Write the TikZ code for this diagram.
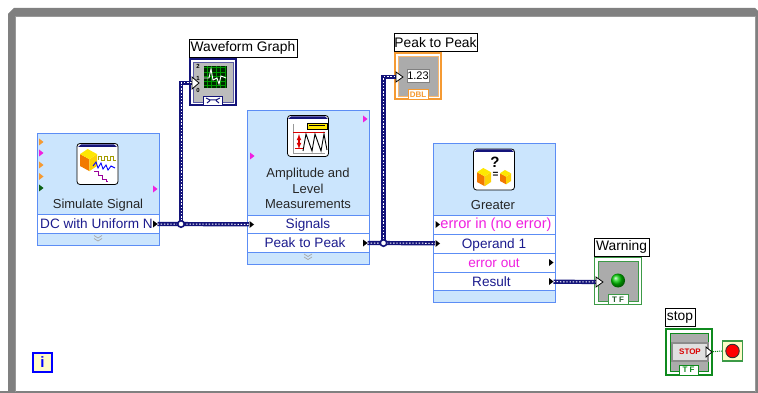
\documentclass[tikz,border=0pt]{standalone}
\usepackage{fontspec}
\setmainfont{Liberation Sans}
\definecolor{framegray}{HTML}{808080}
\definecolor{vipanel}{HTML}{CBE5FD}
\definecolor{viedge}{HTML}{5C8DF5}
\definecolor{rowtext}{HTML}{1C1C8E}
\definecolor{wirenavy}{HTML}{14147A}
\definecolor{errpink}{HTML}{F020E0}
\definecolor{termorange}{HTML}{F59A32}
\definecolor{boolgreen}{HTML}{3C9A46}
\definecolor{stopgreen}{HTML}{0F8A1E}
\definecolor{panelgray}{HTML}{ABABAB}
\definecolor{cream}{HTML}{FFFBC8}
\tikzset{
  vibody/.style={draw=viedge,fill=vipanel,line width=1pt,minimum width=122pt,inner sep=0pt},
  virow/.style={vibody,fill=white,minimum height=19pt,font=\fontsize{13.6}{13.6}\selectfont,text=rowtext,text height=11pt,text depth=2pt},
  vifoot/.style={vibody,minimum height=12pt},
  vitext/.style={font=\fontsize{13}{15.5}\selectfont,text=black!85,align=center,inner sep=0pt},
  viicon/.style={draw=black,fill=white,rounded corners=3pt,line width=.8pt,minimum width=41pt,minimum height=41pt,inner sep=0pt},
  tagbox/.style={draw=black,fill=white,line width=.8pt,font=\fontsize{13.8}{13.8}\selectfont,inner sep=0pt,minimum height=18pt},
  wire/.style={draw=wirenavy,line width=4.2pt,postaction={draw=white,line width=1pt,dash pattern=on 1.4pt off 1.8pt}},
  junct/.style={circle,draw=wirenavy,fill=white,line width=1.6pt,minimum size=6.5pt,inner sep=0pt},
  tftab/.style={draw,fill=white,line width=1pt,inner sep=0pt,font=\bfseries\fontsize{8}{8}\selectfont}
}
\newcommand{\vicube}[3]{% x, y, size
  \fill[orange!95!black] (#1,#2+.3*#3) -- (#1+.55*#3,#2+.6*#3) -- (#1+.55*#3,#2+1.3*#3) -- (#1,#2+1*#3) -- cycle;
  \fill[yellow!70!orange] (#1+.55*#3,#2+.6*#3) -- (#1+#3,#2+.3*#3) -- (#1+#3,#2+1*#3) -- (#1+.55*#3,#2+1.3*#3) -- cycle;
  \fill[yellow!90!orange] (#1,#2+.3*#3) -- (#1+.45*#3,#2) -- (#1+#3,#2+.3*#3) -- (#1+.55*#3,#2+.6*#3) -- cycle;
}
\newcommand{\tick}[3]{\fill[#3] (#1,#2-3.5) -- (#1+4.5,#2) -- (#1,#2+3.5) -- cycle;}
\begin{document}
\begin{tikzpicture}[x=1pt,y=-1pt]
\useasboundingbox (0,0) rectangle (758,393);
\fill[white] (0,0) rectangle (758,393);
% window frame
\fill[framegray,even odd rule] (8,14) -- (14,8) -- (755,8) -- (758,11) -- (758,393) -- (0,393) -- (0,391) -- (8,391) -- cycle
  (15,16) rectangle (755,391);
\fill[white] (0,0) rectangle (8,391);
\draw[black!40,line width=.8pt] (15,391.5) -- (15,16) -- (755,16) -- (755,391.5);

% Simulate Signal
\node (simbody) at (98,174.5) [vibody,minimum height=81pt] {};
\node (simrow) at (98,224) [virow] {DC with Uniform N\hspace*{3pt}};
\node (simfoot) at (98,239) [vifoot] {};
\node (simicon) at (97.5,164) [viicon] {};
\fill[wirenavy] (81,144.5) -- (114,144.5) -- (117,147) -- (78,147) -- cycle;
\vicube{80}{149}{17}
\draw[olive!80!yellow,line width=.9pt] (98,160) -- (98,156) -- (101,156) -- (101,160) -- (104,160) -- (104,156) -- (107,156) -- (107,160) -- (110,160) -- (110,156) -- (113,156) -- (113,160) -- (116,160);
\draw[blue,line width=.9pt] (93,166) -- (96,162) -- (98,168) -- (101,163) -- (103,169) -- (106,165) -- (108,170) -- (111,166) -- (115,168);
\draw[violet!80!magenta,line width=.9pt] (94,171) -- (98,171) -- (98,175) -- (102,175) -- (102,179) -- (106,179) -- (106,181) -- (108,181);
\node (simtext) at (98,205.5) [vitext] {Simulate Signal};
\tick{39}{142}{termorange}
\tick{39}{153}{errpink}
\tick{39}{165}{termorange}
\tick{39}{176.5}{termorange}
\tick{39}{188}{stopgreen!70!black}
\tick{153}{189}{errpink}
\tick{153}{224}{black}
\draw[black!35,line width=.7pt] (94,235.5) -- (98,238) -- (102,235.5) (94,238.5) -- (98,241) -- (102,238.5);

% Amplitude and Level Measurements
\node (ampbody) at (308,163) [vibody,minimum height=104pt] {};
\node (sigrow) at (308,224.5) [virow] {Signals};
\node (peakrow) at (308,243) [virow] {Peak to Peak\hspace*{6pt}};
\node (ampfoot) at (308,258) [vifoot] {};
\node (ampicon) at (308,136) [viicon] {};
\fill[wirenavy] (291,116.5) -- (325,116.5) -- (328,119) -- (288,119) -- cycle;
\fill[yellow!90!orange,draw=black,line width=.5pt] (307,123) rectangle (327,129);
\draw[black,line width=.5pt] (309,125) -- (325,125);
\draw[black!40,line width=.7pt] (293,124) -- (293,153) -- (325,153);
\draw[red!85!black,line width=1pt] (293,133) -- (325,133);
\draw[red!85!black,line width=1.1pt,<->,>=latex] (299,134) -- (299,149) ;
\draw[red!85!black,line width=.9pt] (295,148) -- (303,148);
\draw[black,line width=.9pt] (303,151) -- (306,134) -- (312,151) -- (315,134) -- (321,151) -- (324,134) -- (327,150);
\node (amptext) at (308,188.5) [vitext] {Amplitude and\\Level\\Measurements};
\tick{363}{119}{errpink}
\tick{250}{156}{errpink}
\tick{249.5}{224.5}{black}
\tick{363}{243}{black}
\draw[black!35,line width=.7pt] (304,254) -- (308,256.5) -- (312,254) (304,257) -- (308,259.5) -- (312,257);

% Greater
\node (gtbody) at (494,179.5) [vibody,minimum height=71pt] {};
\node (errinrow) at (494,224.5) [virow,text=errpink,font=\fontsize{14.6}{14.6}\selectfont] {\hspace*{4pt}error in (no error)};
\node (oprow) at (494,243.5) [virow] {Operand 1};
\node (erroutrow) at (494,262.5) [virow,text=errpink] {error out};
\node (resrow) at (494,281.5) [virow] {Result\hspace*{5pt}};
\node (gtfoot) at (494,296.5) [vifoot] {};
\node (gticon) at (494,169.5) [viicon] {};
\fill[wirenavy] (477,149.5) -- (511,149.5) -- (514,152) -- (474,152) -- cycle;
\vicube{477}{168}{14}
\vicube{500}{170}{11}
\node (gtquest) at (495,162) [inner sep=0pt,font=\bfseries\fontsize{15}{15}\selectfont] {?};
\node (gteq) at (495.5,175) [inner sep=0pt,font=\bfseries\fontsize{10}{10}\selectfont] {=};
\node (gttext) at (493,205.5) [vitext] {Greater};
\tick{435.5}{224.5}{black}
\tick{435.5}{243.5}{black}
\tick{549}{262.5}{black}
\tick{549}{281.5}{black}

% Waveform Graph
\node (graphtag) at (243,48) [tagbox,minimum width=108pt] {Waveform Graph};
\node (graphbox) at (213,82) [draw=wirenavy,fill=white,line width=2.4pt,minimum size=46pt,inner sep=0pt] {};
\fill[panelgray!80,draw=wirenavy!70,line width=.7pt] (193,62) rectangle (233,102);
\node (graphplot) at (215,77) [fill=black!85!green,minimum width=23pt,minimum height=22pt,inner sep=0pt] {};
\draw[green!60!black,line width=.4pt,step=4.5pt] (204,66) grid (226,88);
\draw[white,line width=.9pt] (204,78) -- (209,78) -- (211,69) -- (213,80) -- (217,78) -- (219,84) -- (221,76) -- (226,78);
\node (graphy2) at (198,66) [inner sep=0pt,font=\bfseries\fontsize{6}{6}\selectfont] {2};
\node (graphy1) at (198,78) [inner sep=0pt,font=\bfseries\fontsize{6}{6}\selectfont] {1};
\node (graphy0) at (198,90) [inner sep=0pt,font=\bfseries\fontsize{6}{6}\selectfont] {0};
\node (graphtab) at (213,100.5) [draw=wirenavy,fill=white,line width=.9pt,minimum width=19pt,minimum height=9pt,inner sep=0pt] {};
\draw[wirenavy,line width=1pt] (206,98) -- (210,100) -- (216,100) -- (220,98) (207,103) -- (210,100.5) (216,100.5) -- (219,103);
\coordinate (graphin) at (192,83);

% Peak to Peak indicator
\node (peaktag) at (435.5,42.5) [tagbox,minimum width=83pt] {Peak to Peak};
\node (peakbox) at (418,76) [draw=termorange,fill=white,line width=2.4pt,minimum size=46pt,inner sep=0pt] {};
\fill[panelgray,draw=termorange!70,line width=.7pt] (398,56) rectangle (438,96);
\node (peakval) at (418,75.5) [draw=black!50,fill=white,line width=.5pt,minimum width=22pt,minimum height=13pt,inner sep=0pt,font=\fontsize{11}{11}\selectfont] {1.23};
\node (peakdbl) at (418,94.5) [tftab,draw=termorange,text=termorange,minimum width=20pt,minimum height=10pt] {DBL};
\coordinate (peakin) at (396,77);

% Warning indicator
\node (warntag) at (621.5,247) [tagbox,minimum width=55pt] {Warning};
\node (warnbox) at (618,281) [draw=boolgreen,fill=white,line width=1.6pt,minimum size=47pt,inner sep=0pt] {};
\fill[panelgray,draw=boolgreen,line width=.8pt] (598,261) rectangle (638,301);
\node (warnled) at (618,280.5) [circle,minimum size=14pt,inner sep=0pt,ball color=green!80!black,shading=ball] {};
\node (warntf) at (618,299.5) [tftab,draw=boolgreen,text=boolgreen!60!black,minimum width=20pt,minimum height=10pt] {T F};
\coordinate (warnin) at (596,282);

% stop control
\node (stoptag) at (680,317.5) [tagbox,minimum width=30pt] {stop};
\node (stopbox) at (689,352) [draw=stopgreen,fill=white,line width=2.4pt,minimum size=46pt,inner sep=0pt] {};
\fill[panelgray,draw=stopgreen,line width=.7pt] (670,333) rectangle (708,371);
\node (stopbtn) at (690,352) [draw=black!45,fill=black!12,line width=1.2pt,minimum width=36pt,minimum height=18pt,inner sep=0pt,text=red!85!black,font=\bfseries\fontsize{8}{8}\selectfont] {STOP};
\node (stoptf) at (688.5,370) [tftab,draw=stopgreen,text=stopgreen,minimum width=19pt,minimum height=10pt] {T F};
\coordinate (stopout) at (709,352);
\node (stopterm) at (732.5,351) [draw=boolgreen,fill=cream,line width=1.2pt,minimum size=20pt,inner sep=0pt] {};
\node (stopdot) at (732.5,351) [circle,draw=black!80,fill=red,line width=.9pt,minimum size=13.5pt,inner sep=0pt] {};

% info box
\node (infobox) at (42.5,362) [draw=blue,fill=cream,line width=2pt,minimum size=19pt,inner sep=0pt,text=blue,font=\bfseries\fontsize{15}{15}\selectfont] {i};

% wires
\coordinate (simout) at (157.5,224);
\coordinate (sigin) at (249,224.3);
\coordinate (peakout) at (367.5,243);
\coordinate (opin) at (435,243.3);
\coordinate (resout) at (553.5,281.7);
\coordinate (simjoin) at (181,224);
\coordinate (peakjoin) at (383.5,243);
\draw [wire] (simout) -- (sigin);
\draw [wire] (simjoin) |- (graphin);
\draw [wire] (peakout) -- (opin);
\draw [wire] (peakjoin) |- (peakin);
\draw [wire] (resout) -- (warnin);
\node (simdot) at (simjoin) [junct] {};
\node (peakdot) at (peakjoin) [junct] {};
\draw [draw=stopgreen,line width=1pt,densely dotted] (stopout) -- (stopterm.west);

% terminals
\draw[black,fill=white,line width=.8pt] (192,77) -- (199,83) -- (192,89) -- cycle;
\draw[black,fill=white,line width=.8pt] (396,72) -- (403,77) -- (396,82) -- cycle;
\draw[black,fill=white,line width=.8pt] (596,277) -- (603,282) -- (596,287) -- cycle;
\draw[black,fill=white,line width=.8pt] (706,347) -- (712,352) -- (706,357) -- cycle;
\end{tikzpicture}
\end{document}
